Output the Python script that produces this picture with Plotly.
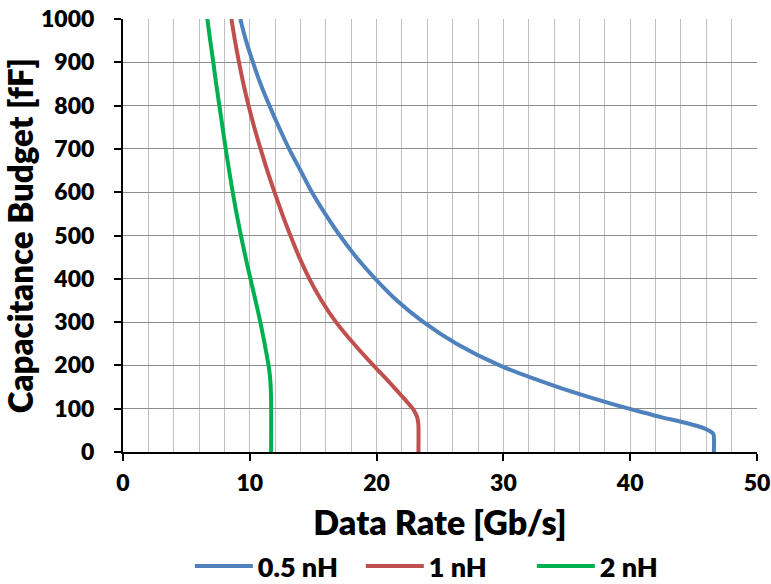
import plotly.graph_objects as go

# Capacitance budget [fF] (y) vs data rate [Gb/s] (x)
blue_c = [0, 35, 42, 48, 54, 60, 70, 80, 90, 100, 150, 200, 250, 300, 350, 400, 450, 500,
          550, 600, 650, 700, 750, 800, 850, 900, 950, 1000]
blue_x = [46.6, 46.6, 46.55, 46.3, 45.9, 45.3, 44.0, 42.5, 41.2, 39.9, 34.3, 29.7, 26.3, 23.7,
          21.6, 19.9, 18.4, 17.1, 15.95, 14.9, 14.0, 13.1, 12.3, 11.55, 10.85, 10.25, 9.7, 9.25]

red_c = [0, 60, 70, 80, 90, 100, 150, 200, 250, 300, 350, 400, 450, 500, 550, 600, 650,
         700, 750, 800, 850, 900, 950, 1000]
red_x = [23.3, 23.3, 23.27, 23.2, 23.05, 22.85, 21.35, 19.75, 18.2, 16.8, 15.65, 14.7, 13.9,
         13.2, 12.55, 11.95, 11.38, 10.85, 10.35, 9.9, 9.5, 9.15, 8.83, 8.55]

green_c = [0, 120, 140, 160, 180, 200, 250, 300, 350, 400, 450, 500, 550, 600, 650, 700, 750,
           800, 850, 900, 950, 1000]
green_x = [11.68, 11.68, 11.66, 11.63, 11.57, 11.48, 11.17, 10.83, 10.45, 10.05, 9.66, 9.3,
           8.96, 8.65, 8.37, 8.1, 7.85, 7.6, 7.35, 7.12, 6.88, 6.65]

series = [
    ("0.5 nH", blue_x, blue_c, "#4F81BD"),
    ("1 nH", red_x, red_c, "#C0504D"),
    ("2 nH", green_x, green_c, "#00B050"),
]

FONT = "Lato"
W = 800

fig = go.Figure()
for name, xs, ys, col in series:
    fig.add_trace(go.Scatter(
        x=xs, y=ys, name=name, mode="lines",
        line=dict(color=col, width=4, shape="spline", smoothing=1.0),
    ))

fig.update_layout(
    width=771, height=584,
    margin=dict(l=123, r=14, t=19, b=132),
    paper_bgcolor="white", plot_bgcolor="white",
    font=dict(family=FONT, color="black", size=23),
    legend=dict(
        orientation="h", x=0.51, xanchor="center",
        yref="container", y=0.03, yanchor="middle",
        font=dict(family=FONT, size=27, color="black", weight=W),
        itemwidth=58, tracegroupgap=0,
        entrywidth=98, entrywidthmode="pixels",
    ),
)

fig.update_xaxes(
    range=[0, 50], dtick=10, tick0=0, automargin=False,
    showline=True, linecolor="black", linewidth=2,
    ticks="outside", ticklen=7, tickwidth=2, tickcolor="black",
    showgrid=True, gridcolor="#BFBFBF", gridwidth=1.3,
    minor=dict(dtick=2, showgrid=True, gridcolor="#BFBFBF", gridwidth=1.3),
    zeroline=False, ticklabeloverflow="allow", ticklabelstandoff=2,
    tickfont=dict(family=FONT, size=23, color="black", weight=W),
    title=dict(text="Data Rate [Gb/s]", standoff=26,
               font=dict(family=FONT, size=34, color="black", weight=W)),
)
fig.update_yaxes(
    range=[0, 1000], dtick=100, tick0=0, automargin="left",
    showline=True, linecolor="black", linewidth=2,
    ticks="outside", ticklen=7, tickwidth=2, tickcolor="black",
    showgrid=True, gridcolor="#8C8C8C", gridwidth=1.3,
    zeroline=False, ticklabelstandoff=15, ticklabeloverflow="allow",
    tickfont=dict(family=FONT, size=23, color="black", weight=W),
    title=dict(text="Capacitance Budget [fF]", standoff=0,
               font=dict(family=FONT, size=33, color="black", weight=W)),
)

fig.write_html("out.html")
